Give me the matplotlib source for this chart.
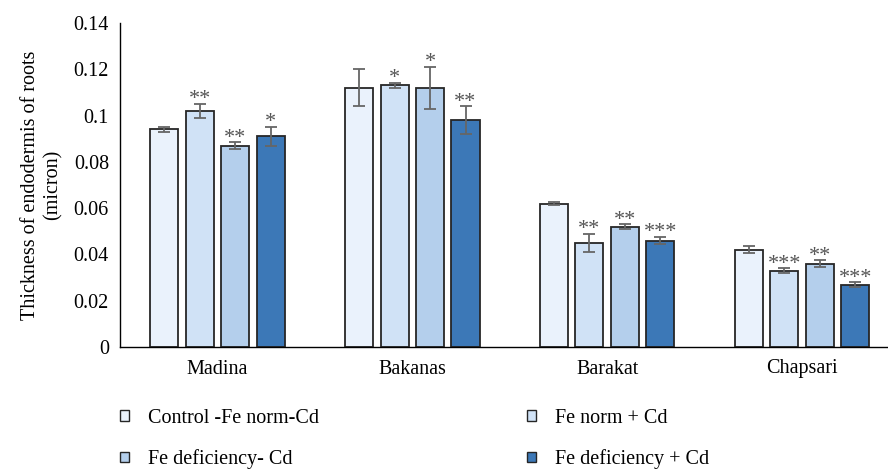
import numpy as np
import matplotlib
matplotlib.use("Agg")
import matplotlib.pyplot as plt
from matplotlib.patches import Patch

# data
sites = ["Madina", "Bakanas", "Barakat", "Chapsari"]
groups = ["Control -Fe norm-Cd", "Fe norm + Cd", "Fe deficiency- Cd", "Fe deficiency + Cd"]
control = [0.094, 0.112, 0.062, 0.042]
fe_norm_cd = [0.102, 0.113, 0.045, 0.033]
fe_def = [0.087, 0.112, 0.052, 0.036]
fe_def_cd = [0.091, 0.098, 0.046, 0.027]
err_control = [0.0010, 0.0080, 0.0007, 0.0015]
err_fe_norm_cd = [0.0030, 0.0010, 0.0040, 0.0010]
err_fe_def = [0.0015, 0.0090, 0.0010, 0.0015]
err_fe_def_cd = [0.0040, 0.0060, 0.0015, 0.0010]
stars_control = ["", "", "", ""]
stars_fe_norm_cd = ["**", "*", "**", "***"]
stars_fe_def = ["**", "*", "**", "**"]
stars_fe_def_cd = ["*", "**", "***", "***"]

colors = ["#EAF2FC", "#D0E2F6", "#B4CFEC", "#3C78B7"]

plt.rcParams["font.family"] = ["Liberation Serif", "DejaVu Serif"]
fs = 14.5

fig = plt.figure(figsize=(8.88, 4.70), dpi=100)
ax = fig.add_axes([120/888, 1-347/470, 1-120/888, (347-23)/470])

x = np.arange(len(sites))
w = 0.144
pitch = 0.182
series = [control, fe_norm_cd, fe_def, fe_def_cd]
errs = [err_control, err_fe_norm_cd, err_fe_def, err_fe_def_cd]
stars = [stars_control, stars_fe_norm_cd, stars_fe_def, stars_fe_def_cd]
for i in range(4):
    pos = x + (i - 1.5) * pitch
    ax.bar(pos, series[i], w, color=colors[i], edgecolor="#262626", linewidth=1.3, zorder=2)
    ax.errorbar(pos, series[i], yerr=errs[i], fmt="none", ecolor="#666666",
                elinewidth=1.3, capsize=4, capthick=1.3, zorder=3)
    for p, v, e, s in zip(pos, series[i], errs[i], stars[i]):
        if s:
            ax.text(p, v + e - 0.0023, s, ha="center", va="bottom",
                    fontsize=16, color="#555555")

ax.set_xlim(-0.5, -0.5 + (888-119.5)/195)
ax.set_ylim(0, 0.14)
ax.set_yticks([0, 0.02, 0.04, 0.06, 0.08, 0.1, 0.12, 0.14])
ax.set_yticklabels(["0", "0.02", "0.04", "0.06", "0.08", "0.1", "0.12", "0.14"])
ax.set_xticks(x)
ax.set_xticklabels(sites)
ax.tick_params(axis="both", length=0, labelsize=fs, pad=8)
ax.tick_params(axis="x", pad=9)
for s in ["top", "right"]:
    ax.spines[s].set_visible(False)
ax.spines["left"].set_linewidth(1.0)
ax.spines["bottom"].set_linewidth(1.0)
ax.set_ylabel("Thickness of endodermis of roots\n(micron)", fontsize=fs, labelpad=8)

handles = [Patch(facecolor=c, edgecolor="#262626", linewidth=1.0) for c in colors]
order = [0, 2, 1, 3]
fig.legend([handles[k] for k in order], [groups[k] for k in order], ncol=2,
           loc="upper left", bbox_to_anchor=(114/888, 1-403/470), frameon=False,
           fontsize=fs, handlelength=0.45, handleheight=0.45, handletextpad=0.95,
           labelspacing=1.05, columnspacing=10.3, borderaxespad=0, borderpad=0.3)

fig.savefig("out.png", dpi=100)
